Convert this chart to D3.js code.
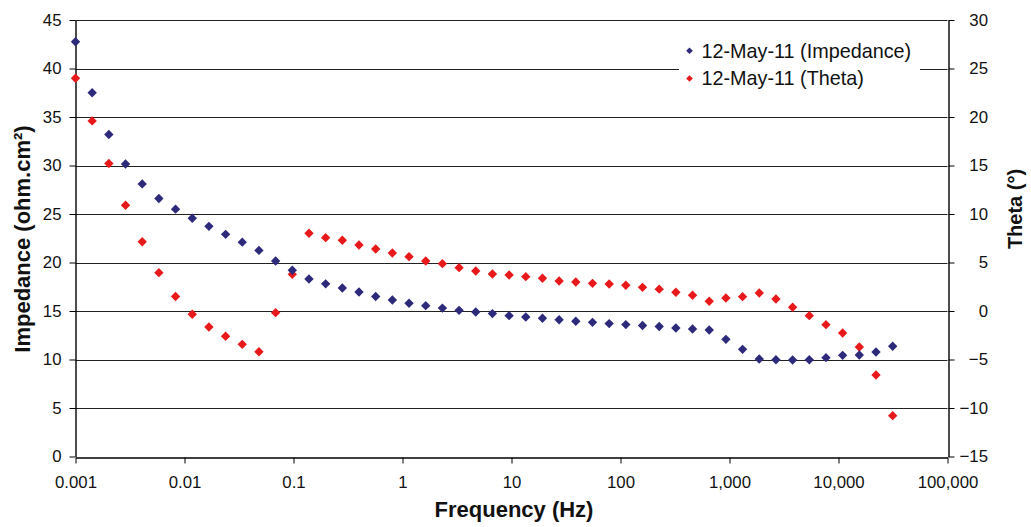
<!DOCTYPE html>
<html>
<head>
<meta charset="utf-8">
<script src="https://cdn.jsdelivr.net/npm/d3@7"></script>
<style>
  html, body { margin: 0; padding: 0; background: #fff; }
  svg { display: block; font-family: "Liberation Sans", Arial, sans-serif; }
</style>
</head>
<body>
<svg id="chart" width="1031" height="527"></svg>
<script>
// ---- data ----
const frequencies = [
  0.001, 0.001422, 0.002023, 0.002877, 0.004093, 0.005821, 0.008279, 0.01178, 0.01675, 0.02382,
  0.03388, 0.04819, 0.06855, 0.0975, 0.1387, 0.1972, 0.2805, 0.399, 0.5675, 0.8072,
  1.148, 1.633, 2.323, 3.304, 4.699, 6.683, 9.506, 13.52, 19.23, 27.35,
  38.9, 55.34, 78.7, 111.9, 159.2, 226.5, 322.1, 458.1, 651.6, 926.8,
  1318, 1875, 2667, 3793, 5395, 7674, 10914, 15524, 22080, 31405
];
const impedance = [
  42.76, 37.5, 33.2, 30.15, 28.1, 26.6, 25.5, 24.56, 23.73, 22.9,
  22.1, 21.25, 20.15, 19.2, 18.3, 17.8, 17.37, 16.96, 16.5, 16.13,
  15.8, 15.55, 15.3, 15.07, 14.9, 14.73, 14.52, 14.38, 14.25, 14.1,
  13.94, 13.83, 13.7, 13.6, 13.5, 13.4, 13.25, 13.14, 13.04, 12.08,
  11.05, 10.05, 9.98, 9.95, 9.98, 10.19, 10.43, 10.46, 10.77, 11.36
];
const theta = [
  24.0, 19.6, 15.2, 10.9, 7.14, 3.95, 1.5, -0.34, -1.65, -2.6,
  -3.44, -4.2, -0.17, 3.78, 8.01, 7.56, 7.29, 6.8, 6.39, 5.98,
  5.6, 5.15, 4.88, 4.47, 4.12, 3.81, 3.71, 3.54, 3.37, 3.09,
  2.99, 2.85, 2.78, 2.65, 2.44, 2.25, 1.93, 1.62, 1.0, 1.34,
  1.48, 1.86, 1.24, 0.38, -0.48, -1.41, -2.27, -3.71, -6.6, -10.79
];
const xTicks = [0.001, 0.01, 0.1, 1, 10, 100, 1000, 10000, 100000];
const xTickLabels = ["0.001", "0.01", "0.1", "1", "10", "100", "1,000", "10,000", "100,000"];
const yLeftTicks = [0, 5, 10, 15, 20, 25, 30, 35, 40, 45];
const yRightTicks = [-15, -10, -5, 0, 5, 10, 15, 20, 25, 30];
const seriesNames = ["12-May-11 (Impedance)", "12-May-11 (Theta)"];
const seriesColors = ["#2d2a7c", "#e8191b"];

// ---- layout ----
const L = 75.5, R = 947.5, T = 20, B = 456.5;
const svg = d3.select("#chart");

const x = d3.scaleLog().domain([0.001, 100000]).range([L, R]);
const yL = d3.scaleLinear().domain([0, 45]).range([B, T]);
const yR = d3.scaleLinear().domain([-15, 30]).range([B, T]);

// square diamond symbol (equal width/height)
const squareDiamond = {
  draw(ctx, size) {
    const r = Math.sqrt(size / 2);
    ctx.moveTo(0, -r); ctx.lineTo(r, 0); ctx.lineTo(0, r); ctx.lineTo(-r, 0); ctx.closePath();
  }
};

// gridlines
svg.append("g").selectAll("line").data(yLeftTicks.filter(d => d > 0)).join("line")
  .attr("x1", L).attr("x2", R)
  .attr("y1", d => Math.round(yL(d)) + 0.5).attr("y2", d => Math.round(yL(d)) + 0.5)
  .attr("stroke", "#222").attr("stroke-width", 1);

// axes
const fmtX = d => xTickLabels[xTicks.indexOf(d)];
const gx = svg.append("g").attr("transform", `translate(0,${Math.round(B) + 0.5})`)
  .call(d3.axisBottom(x).tickValues(xTicks).tickFormat(fmtX).tickSize(6).tickSizeOuter(0));
const gl = svg.append("g").attr("transform", `translate(${Math.round(L) - 0.5},0)`)
  .call(d3.axisLeft(yL).tickValues(yLeftTicks).tickFormat(d3.format("d")).tickSize(6).tickSizeOuter(0));
const gr = svg.append("g").attr("transform", `translate(${Math.round(R) + 0.5},0)`)
  .call(d3.axisRight(yR).tickValues(yRightTicks).tickFormat(d3.format("d")).tickSize(6).tickSizeOuter(0));

[gx, gl, gr].forEach(g => {
  g.selectAll("path.domain").attr("stroke", "#000").attr("stroke-width", 1.4);
  g.selectAll(".tick line").attr("stroke", "#000");
  g.selectAll(".tick text").attr("font-size", 16.8).attr("fill", "#111")
    .attr("font-family", "'Liberation Sans', Arial, sans-serif");
});
gx.selectAll(".tick text").attr("dy", null).attr("y", 30.5);
gl.selectAll(".tick text").attr("x", -14);
gr.selectAll(".tick text").attr("text-anchor", "end").attr("x", 39.5);

// axis titles
svg.append("text").attr("x", 514).attr("y", 516.5).attr("text-anchor", "middle")
  .attr("font-size", 22).attr("font-weight", "bold").attr("fill", "#111")
  .text("Frequency (Hz)");
svg.append("text").attr("transform", "translate(29.5,239) rotate(-90)").attr("text-anchor", "middle")
  .attr("font-size", 22).attr("font-weight", "bold").attr("fill", "#111")
  .text("Impedance (ohm.cm²)");
svg.append("text").attr("transform", "translate(1022,209) rotate(-90)").attr("text-anchor", "middle")
  .attr("font-size", 20).attr("font-weight", "bold").attr("fill", "#111")
  .text("Theta (°)");

// markers
const diamond = d3.symbol().type(squareDiamond).size(44);
const pts = frequencies.map((f, i) => ({ f, z: impedance[i], t: theta[i] }));
svg.append("g").selectAll("path").data(pts).join("path")
  .attr("d", diamond).attr("fill", seriesColors[1])
  .attr("transform", d => `translate(${x(d.f)},${yR(d.t)})`);
svg.append("g").selectAll("path").data(pts).join("path")
  .attr("d", diamond).attr("fill", seriesColors[0])
  .attr("transform", d => `translate(${x(d.f)},${yL(d.z)})`);

// legend
const lg = svg.append("g");
lg.append("rect").attr("x", 679).attr("y", 33).attr("width", 241).attr("height", 64).attr("fill", "#fff");
seriesNames.forEach((name, i) => {
  const cy = 50.7 + i * 27.8;
  lg.append("path").attr("d", d3.symbol().type(squareDiamond).size(22))
    .attr("fill", seriesColors[i]).attr("transform", `translate(689.5,${cy})`);
  lg.append("text").attr("x", 701.5).attr("y", cy + 6.8).attr("font-size", 19.8).attr("fill", "#111")
    .text(name);
});
</script>
</body>
</html>
